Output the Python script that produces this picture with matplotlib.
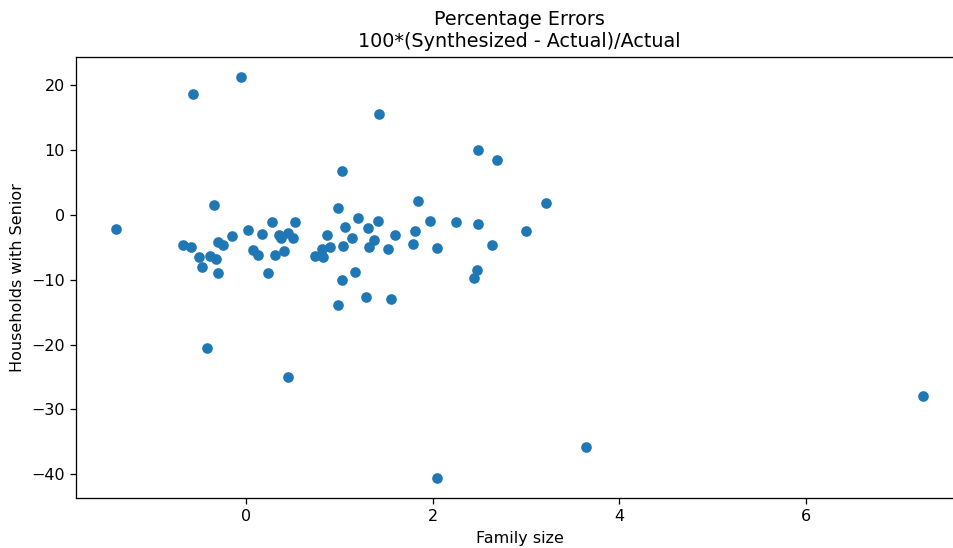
import numpy as np
import matplotlib
matplotlib.use("Agg")
import matplotlib.pyplot as plt

# percentage errors
family_size = [-1.395, -0.676, -0.590, -0.569, -0.504, -0.472, -0.418, -0.386, -0.343, -0.322,
               -0.300, -0.300, -0.247, -0.150, -0.054, 0.021, 0.075, 0.129, 0.172, 0.236,
               0.279, 0.311, 0.354, 0.376, 0.408, 0.451, 0.451, 0.504, 0.526, 0.740,
               0.815, 0.826, 0.869, 0.901, 0.987, 0.987, 1.030, 1.030, 1.041, 1.062,
               1.137, 1.170, 1.202, 1.288, 1.309, 1.320, 1.373, 1.416, 1.427, 1.524,
               1.556, 1.599, 1.792, 1.813, 1.845, 1.974, 2.039, 2.049, 2.253, 2.436,
               2.468, 2.479, 2.489, 2.639, 2.693, 2.994, 3.208, 3.637, 7.253]
hh_senior = [-2.16, -4.63, -4.94, 18.67, -6.48, -8.02, -20.52, -6.33, 1.54, -6.79,
             -4.17, -8.95, -4.63, -3.24, 21.30, -2.31, -5.40, -6.17, -2.93, -8.95,
             -1.08, -6.17, -3.09, -3.55, -5.56, -2.78, -25.0, -3.55, -1.08, -6.33,
             -5.25, -6.48, -3.09, -4.94, 1.08, -13.89, 6.79, -10.03, -4.78, -1.85,
             -3.55, -8.80, -0.46, -12.65, -2.01, -4.94, -3.86, -0.93, 15.59, -5.25,
             -12.96, -3.09, -4.48, -2.47, 2.16, -0.93, -40.59, -5.09, -1.08, -9.72,
             -8.49, 10.03, -1.39, -4.63, 8.49, -2.47, 1.85, -35.80, -27.93]

dpi = 115
fig = plt.figure(figsize=(954 / dpi, 548 / dpi), dpi=dpi)
# right spine lies just past the image edge, as in the reference
ax = fig.add_axes([76 / 954, 1 - 498 / 548, (963 - 76) / 954, (498 - 57) / 548])

ax.scatter(family_size, hh_senior, s=32)
ax.set_title("Percentage Errors\n100*(Synthesized - Actual)/Actual")
ax.set_xlabel("Family size")
ax.set_ylabel("Households with Senior")

fig.savefig("out.png", dpi=dpi)
